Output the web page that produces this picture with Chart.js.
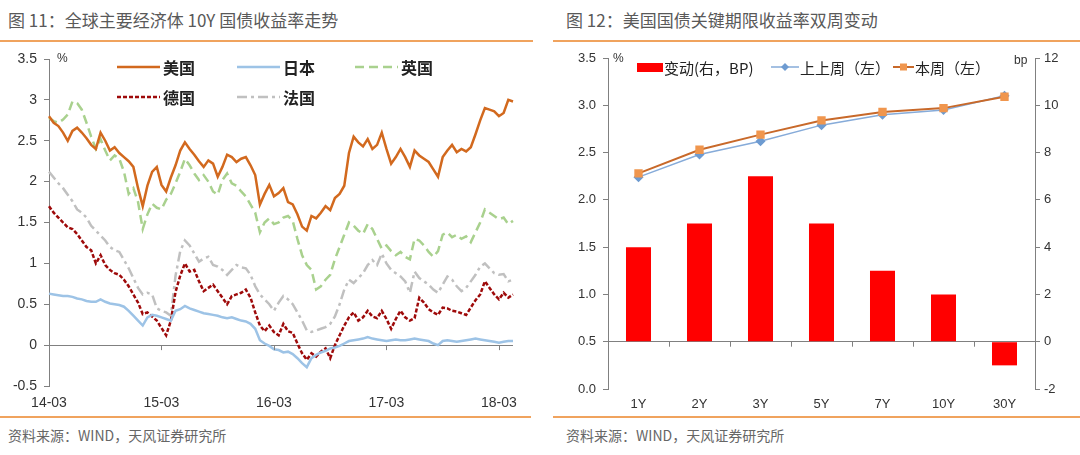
<!DOCTYPE html>
<html>
<head>
<meta charset="utf-8">
<script src="https://cdn.jsdelivr.net/npm/chart.js@4.4.1/dist/chart.umd.min.js"></script>
<style>
body { margin: 0; background: #fff; width: 1080px; height: 455px; overflow: hidden; position: relative; font-family: "Noto Sans CJK SC", sans-serif; }
.title { position: absolute; top: 9px; font-size: 17px; line-height: 22px; color: #595959; white-space: nowrap; }
.rule { position: absolute; height: 2px; background: #F0A35E; }
.src { position: absolute; top: 425px; font-size: 14px; line-height: 20px; color: #666; white-space: nowrap; }
canvas { position: absolute; top: 43px; }
</style>
</head>
<body>
<div class="title" style="left:8px">图 11：全球主要经济体 10Y 国债收益率走势</div>
<div class="title" style="left:566px">图 12：美国国债关键期限收益率双周变动</div>
<div class="rule" style="left:0;width:533px;top:40px"></div>
<div class="rule" style="left:553px;width:527px;top:40px"></div>
<canvas id="leftChart" width="540" height="372" style="left:0"></canvas>
<canvas id="rightChart" width="540" height="372" style="left:540px"></canvas>
<div class="rule" style="left:0;width:531px;top:416px"></div>
<div class="rule" style="left:553px;width:527px;top:416px"></div>
<div class="src" style="left:8px">资料来源：WIND，天风证券研究所</div>
<div class="src" style="left:566px">资料来源：WIND，天风证券研究所</div>

<script>
// ---- 图11 data: half-monthly readings, 2014-03 .. 2018-04 ----
var tickLabels = ['14-03', '15-03', '16-03', '17-03', '18-03'];

var usYield = [
  2.80, 2.72, 2.68, 2.60, 2.50, 2.62, 2.66, 2.60, 2.53, 2.45,
  2.40, 2.60, 2.50, 2.38, 2.42, 2.35, 2.30, 2.25, 2.18, 1.92,
  1.70, 1.95, 2.12, 2.18, 1.96, 1.88, 2.05, 2.20, 2.38, 2.48,
  2.40, 2.33, 2.25, 2.18, 2.26, 2.22, 2.06, 2.18, 2.33, 2.30,
  2.24, 2.28, 2.30, 2.20, 2.08, 1.72, 1.85, 1.96, 1.82, 1.86,
  1.92, 1.75, 1.72, 1.60, 1.45, 1.40, 1.58, 1.55, 1.62, 1.70,
  1.65, 1.80, 1.85, 1.95, 2.35, 2.55, 2.48, 2.43, 2.52, 2.40,
  2.45, 2.60, 2.40, 2.22, 2.30, 2.40, 2.30, 2.18, 2.38, 2.32,
  2.28, 2.24, 2.15, 2.06, 2.30, 2.38, 2.45, 2.36, 2.40, 2.37,
  2.42, 2.58, 2.75, 2.90, 2.88, 2.86, 2.80, 2.84, 3.00, 2.98
];
var jpYield = [
  0.63, 0.62, 0.61, 0.60, 0.60, 0.59, 0.57, 0.56, 0.54, 0.53,
  0.53, 0.56, 0.53, 0.51, 0.50, 0.49, 0.47, 0.42, 0.36, 0.30,
  0.24, 0.34, 0.37, 0.36, 0.34, 0.32, 0.30, 0.42, 0.44, 0.48,
  0.45, 0.43, 0.41, 0.39, 0.38, 0.37, 0.36, 0.34, 0.33, 0.34,
  0.32, 0.30, 0.29, 0.26, 0.20, 0.06, 0.02, -0.01, -0.05, -0.06,
  -0.09, -0.08, -0.11, -0.16, -0.22, -0.27, -0.16, -0.12, -0.09, -0.07,
  -0.04, -0.03, -0.01, 0.02, 0.05, 0.06, 0.07, 0.08, 0.10, 0.08,
  0.07, 0.06, 0.05, 0.06, 0.07, 0.06, 0.06, 0.07, 0.08, 0.07,
  0.06, 0.05, 0.02, 0.00, 0.05, 0.06, 0.05, 0.04, 0.05, 0.06,
  0.07, 0.08, 0.07, 0.06, 0.05, 0.04, 0.03, 0.04, 0.05, 0.05
];
var ukYield = [
  2.78, 2.74, 2.72, 2.76, 2.82, 2.98, 2.96, 2.88, 2.72, 2.55,
  2.40, 2.52, 2.38, 2.26, 2.32, 2.28, 2.12, 1.85, 1.92, 1.75,
  1.42, 1.60, 1.73, 1.68, 1.66, 1.78, 1.85, 1.98, 2.12, 2.28,
  2.20, 2.10, 2.02, 2.08, 2.00, 1.88, 1.84, 2.02, 2.10, 1.98,
  1.95, 1.88, 1.82, 1.72, 1.62, 1.38, 1.50, 1.55, 1.48, 1.50,
  1.56, 1.58, 1.52, 1.30, 1.10, 0.98, 0.92, 0.68, 0.72, 0.80,
  0.86, 1.05, 1.20, 1.35, 1.50, 1.46, 1.40, 1.36, 1.48, 1.42,
  1.30, 1.18, 1.22, 1.15, 1.10, 1.14, 1.08, 1.05, 1.30, 1.28,
  1.22, 1.14, 1.08, 1.15, 1.35, 1.38, 1.32, 1.35, 1.30, 1.33,
  1.26, 1.38, 1.50, 1.66, 1.62, 1.58, 1.54, 1.56, 1.48, 1.52
];
var deYield = [
  1.70, 1.62, 1.56, 1.50, 1.44, 1.42, 1.36, 1.28, 1.20, 1.16,
  1.00, 1.10, 0.98, 0.92, 0.88, 0.86, 0.80, 0.72, 0.62, 0.52,
  0.38, 0.40, 0.35, 0.30, 0.21, 0.12, 0.30, 0.65, 0.85, 1.00,
  0.90, 0.92, 0.78, 0.66, 0.70, 0.74, 0.66, 0.58, 0.50, 0.60,
  0.62, 0.64, 0.68, 0.58, 0.40, 0.24, 0.17, 0.24, 0.16, 0.12,
  0.26, 0.17, 0.15, 0.02, -0.10, -0.18, -0.10, -0.14, -0.08, -0.04,
  -0.16, 0.00, 0.12, 0.24, 0.34, 0.40, 0.30, 0.34, 0.42, 0.35,
  0.33, 0.42, 0.32, 0.20, 0.32, 0.42, 0.34, 0.30, 0.33, 0.58,
  0.52, 0.44, 0.40, 0.37, 0.46, 0.45, 0.42, 0.41, 0.39, 0.37,
  0.46, 0.55, 0.62, 0.78, 0.70, 0.62, 0.56, 0.64, 0.58, 0.62
];
var frYield = [
  2.12, 2.05, 1.98, 1.92, 1.84, 1.76, 1.66, 1.62, 1.56, 1.46,
  1.40, 1.34, 1.28, 1.20, 1.16, 1.14, 1.04, 0.94, 0.82, 0.70,
  0.62, 0.64, 0.62, 0.45, 0.42, 0.40, 0.36, 0.85, 1.15, 1.28,
  1.22, 1.12, 1.02, 1.06, 1.08, 0.98, 0.96, 0.92, 0.86, 0.92,
  0.98, 0.95, 0.94, 0.86, 0.72, 0.62, 0.56, 0.50, 0.42, 0.52,
  0.60, 0.56, 0.50, 0.40, 0.30, 0.18, 0.16, 0.18, 0.20, 0.22,
  0.26, 0.35, 0.50, 0.68, 0.80, 0.76, 0.82, 0.88, 0.98, 1.04,
  0.98, 1.12, 1.00, 0.92, 0.88, 0.84, 0.78, 0.64, 0.90, 0.82,
  0.78, 0.74, 0.68, 0.64, 0.74, 0.84, 0.80, 0.72, 0.66, 0.70,
  0.78, 0.86, 0.96, 1.00, 0.94, 0.88, 0.86, 0.87, 0.78, 0.80
];

// ---- 图12 data ----
var tenors = ['1Y', '2Y', '3Y', '5Y', '7Y', '10Y', '30Y'];
var changeBp = [4, 5, 7, 5, 3, 2, -1];
var prevWeek = [2.24, 2.48, 2.62, 2.79, 2.90, 2.95, 3.10];
var thisWeek = [2.28, 2.53, 2.69, 2.84, 2.93, 2.97, 3.09];

// half-month date axis
var dates = [];
for (var m = 0; m < 50; m++) {
  var d = new Date(2014, 2 + m, 1);
  var s = d.getFullYear() + '-' + String(d.getMonth() + 1).padStart(2, '0');
  dates.push(s + '-01', s + '-16');
}

Chart.defaults.font.family = '"Liberation Sans", Arial, sans-serif';
Chart.defaults.color = '#333';

var axisGray = '#808080';
var cjk = '"Noto Sans CJK SC", sans-serif';

var leftSeries = [
  { label: '美国', data: usYield, borderColor: '#D2691E', borderDash: [] },
  { label: '日本', data: jpYield, borderColor: '#9DC3E6', borderDash: [] },
  { label: '英国', data: ukYield, borderColor: '#A9D18E', borderDash: [9, 5] },
  { label: '德国', data: deYield, borderColor: '#9E0A0A', borderDash: [4, 2] },
  { label: '法国', data: frYield, borderColor: '#C0C0C0', borderDash: [10, 4, 3, 4] }
];
var leftLegendSpots = [[117, 24], [237, 24], [355, 24], [117, 54], [237, 54]];

var leftDecor = {
  id: 'leftDecor',
  afterDraw: function (chart) {
    var ctx = chart.ctx;
    var xs = chart.scales.x, ys = chart.scales.y;
    var y0 = ys.getPixelForValue(0);
    ctx.save();
    // ticks on the zero line
    ctx.strokeStyle = axisGray;
    ctx.lineWidth = 1;
    for (var i = 0; i < dates.length; i += 24) {
      var px = Math.round(xs.getPixelForValue(i)) + 0.5;
      ctx.beginPath();
      ctx.moveTo(px, y0);
      ctx.lineTo(px, y0 + 5);
      ctx.stroke();
    }
    // unit
    ctx.fillStyle = '#333';
    ctx.font = '12px "Liberation Sans", Arial, sans-serif';
    ctx.textBaseline = 'middle';
    ctx.fillText('%', 57, 16);
    // legend
    leftSeries.forEach(function (s, k) {
      var p = leftLegendSpots[k];
      ctx.strokeStyle = s.borderColor;
      ctx.lineWidth = 2.5;
      ctx.setLineDash(s.borderDash);
      ctx.beginPath();
      ctx.moveTo(p[0], p[1]);
      ctx.lineTo(p[0] + 43, p[1]);
      ctx.stroke();
      ctx.setLineDash([]);
      ctx.fillStyle = '#222';
      ctx.font = 'bold 16px ' + cjk;
      ctx.fillText(s.label, p[0] + 46, p[1] + 1);
    });
    ctx.restore();
  }
};

new Chart(document.getElementById('leftChart'), {
  type: 'line',
  data: {
    labels: dates,
    datasets: leftSeries.map(function (s) {
      return {
        label: s.label,
        data: s.data,
        borderColor: s.borderColor,
        borderDash: s.borderDash,
        borderWidth: 2.5,
        pointRadius: 0,
        tension: 0,
        fill: false
      };
    })
  },
  options: {
    responsive: false,
    animation: false,
    layout: { padding: { left: 0, right: 27, top: 16, bottom: 0 } },
    plugins: { legend: { display: false }, tooltip: { enabled: false } },
    scales: {
      x: {
        type: 'category',
        grid: { display: false, drawTicks: false },
        border: { display: false },
        ticks: {
          autoSkip: false,
          maxRotation: 0,
          padding: 9,
          font: { size: 14 },
          callback: function (v, i) { return i % 24 === 0 ? tickLabels[i / 24] : null; }
        },
        afterFit: function (sc) { sc.height = 29; }
      },
      y: {
        min: -0.5,
        max: 3.5,
        ticks: {
          stepSize: 0.5, padding: 7, font: { size: 14 },
          callback: function (v) { return String(Number(v.toFixed(2))); }
        },
        grid: {
          color: function (c) { return c.tick && c.tick.value === 0 ? axisGray : 'rgba(0,0,0,0)'; },
          tickColor: axisGray,
          tickLength: 5
        },
        border: { color: axisGray },
        afterFit: function (sc) { sc.width = 49; }
      }
    }
  },
  plugins: [leftDecor]
});

// ---- 图12 ----
var rightDecor = {
  id: 'rightDecor',
  afterDraw: function (chart) {
    var ctx = chart.ctx;
    var xs = chart.scales.x, y2 = chart.scales.y2;
    var z = y2.getPixelForValue(0);
    ctx.save();
    ctx.strokeStyle = axisGray;
    ctx.lineWidth = 1;
    for (var i = 0; i < tenors.length - 1; i++) {
      var px = Math.round((xs.getPixelForValue(i) + xs.getPixelForValue(i + 1)) / 2) + 0.5;
      ctx.beginPath();
      ctx.moveTo(px, z);
      ctx.lineTo(px, z + 5);
      ctx.stroke();
    }
    ctx.fillStyle = '#333';
    ctx.textBaseline = 'middle';
    ctx.font = '12px "Liberation Sans", Arial, sans-serif';
    ctx.fillText('%', 73, 16);
    ctx.fillText('bp', 474, 18);

    // legend
    var ly = 24;
    ctx.font = '15px ' + cjk;
    ctx.fillStyle = '#FF0000';
    ctx.fillRect(97, ly - 4, 26, 9);
    ctx.fillStyle = '#222';
    ctx.fillText('变动(右，BP)', 124, ly + 1);

    ctx.strokeStyle = '#86ABD9';
    ctx.lineWidth = 1.5;
    ctx.beginPath(); ctx.moveTo(231, ly); ctx.lineTo(259, ly); ctx.stroke();
    ctx.fillStyle = '#6E9BD1';
    ctx.beginPath();
    ctx.moveTo(245, ly - 4); ctx.lineTo(249, ly); ctx.lineTo(245, ly + 4); ctx.lineTo(241, ly);
    ctx.closePath(); ctx.fill();
    ctx.fillStyle = '#222';
    ctx.fillText('上上周（左）', 260, ly + 1);

    ctx.strokeStyle = '#C8692A';
    ctx.lineWidth = 2;
    ctx.beginPath(); ctx.moveTo(353, ly); ctx.lineTo(374, ly); ctx.stroke();
    ctx.fillStyle = '#F0964E';
    ctx.fillRect(360, ly - 3.5, 7, 7);
    ctx.fillStyle = '#222';
    ctx.fillText('本周（左）', 375, ly + 1);
    ctx.restore();
  }
};

new Chart(document.getElementById('rightChart'), {
  data: {
    labels: tenors,
    datasets: [
      {
        type: 'bar', label: '变动(右，BP)', data: changeBp, yAxisID: 'y2',
        backgroundColor: '#FF0000', barPercentage: 0.41, categoryPercentage: 1, order: 3
      },
      {
        type: 'line', label: '上上周（左）', data: prevWeek, yAxisID: 'y',
        borderColor: '#86ABD9', backgroundColor: '#6E9BD1', pointBorderColor: '#6E9BD1',
        borderWidth: 1.5, pointStyle: 'rectRot', pointRadius: 4, tension: 0, order: 2
      },
      {
        type: 'line', label: '本周（左）', data: thisWeek, yAxisID: 'y',
        borderColor: '#C8692A', backgroundColor: '#F0964E', pointBorderColor: '#F0964E',
        borderWidth: 2, pointStyle: 'rect', pointRadius: 4.5, tension: 0, order: 1
      }
    ]
  },
  options: {
    responsive: false,
    animation: false,
    layout: { padding: { left: 0, right: 0, top: 15, bottom: 0 } },
    plugins: { legend: { display: false }, tooltip: { enabled: false } },
    scales: {
      x: {
        type: 'category',
        grid: { display: false, drawTicks: false },
        border: { display: false },
        ticks: { padding: 8, font: { size: 13 }, maxRotation: 0 },
        afterFit: function (sc) { sc.height = 26; }
      },
      y: {
        position: 'left',
        min: 0,
        max: 3.5,
        ticks: { stepSize: 0.5, padding: 7, font: { size: 13 }, callback: function (v) { return v.toFixed(1); } },
        grid: { drawOnChartArea: false, tickColor: axisGray, color: axisGray, tickLength: 5 },
        border: { color: axisGray },
        afterFit: function (sc) { sc.width = 68; }
      },
      y2: {
        position: 'right',
        min: -2,
        max: 12,
        ticks: { stepSize: 2, padding: 4, font: { size: 13 } },
        grid: {
          color: function (c) { return c.tick && c.tick.value === 0 ? axisGray : 'rgba(0,0,0,0)'; },
          tickColor: axisGray,
          tickLength: 5
        },
        border: { color: axisGray },
        afterFit: function (sc) { sc.width = 45; }
      }
    }
  },
  plugins: [rightDecor]
});
</script>
</body>
</html>
